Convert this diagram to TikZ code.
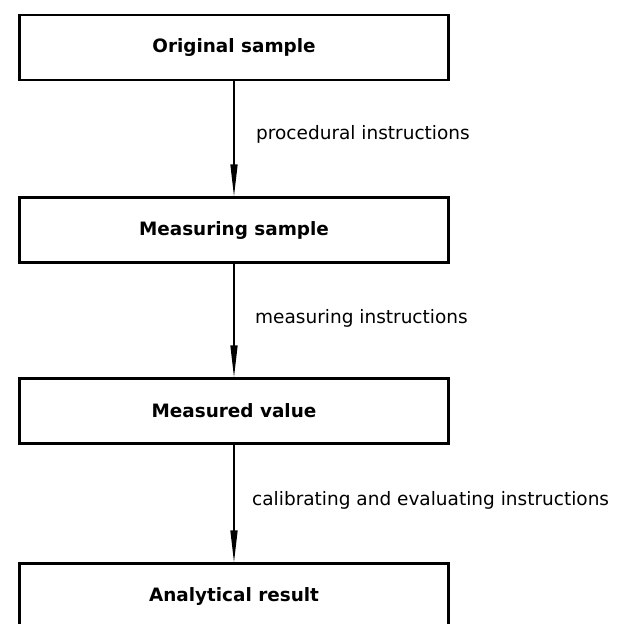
\documentclass[tikz,border=0pt]{standalone}
\usepackage{fontspec}
\setmainfont{DejaVu Sans}
\usetikzlibrary{arrows.meta}
\tikzset{
  stage/.style={draw, line width=2.2bp, rectangle, minimum width=429bp, minimum height=65bp, inner sep=0pt, font=\fontsize{18.4bp}{21bp}\selectfont\bfseries},
  flow/.style={line width=1.4bp, -{Triangle[length=32bp,width=7bp]}},
  lbl/.style={anchor=west, inner sep=0pt, font=\fontsize{18.5bp}{21bp}\selectfont}
}
\begin{document}
\begin{tikzpicture}[x=1bp, y=-1bp]
\useasboundingbox (0,0) rectangle (625,624);
\clip (0,0) rectangle (625,624);
\node[stage] (b1) at (234,47.5) {Original sample};
\node[stage] (b2) at (234,230) {Measuring sample};
\node[stage] (b3) at (234,411) {Measured value};
\node[stage] (b4) at (234,596) {Analytical result};
\draw[flow] (b1.south) -- (b2.north);
\draw[flow] (b2.south) -- (b3.north);
\draw[flow] (b3.south) -- (b4.north);
\node[lbl] (l1) at (256,134) {procedural instructions};
\node[lbl] (l2) at (255,318) {measuring instructions};
\node[lbl] (l3) at (252,500) {calibrating and evaluating instructions};
\end{tikzpicture}
\end{document}
